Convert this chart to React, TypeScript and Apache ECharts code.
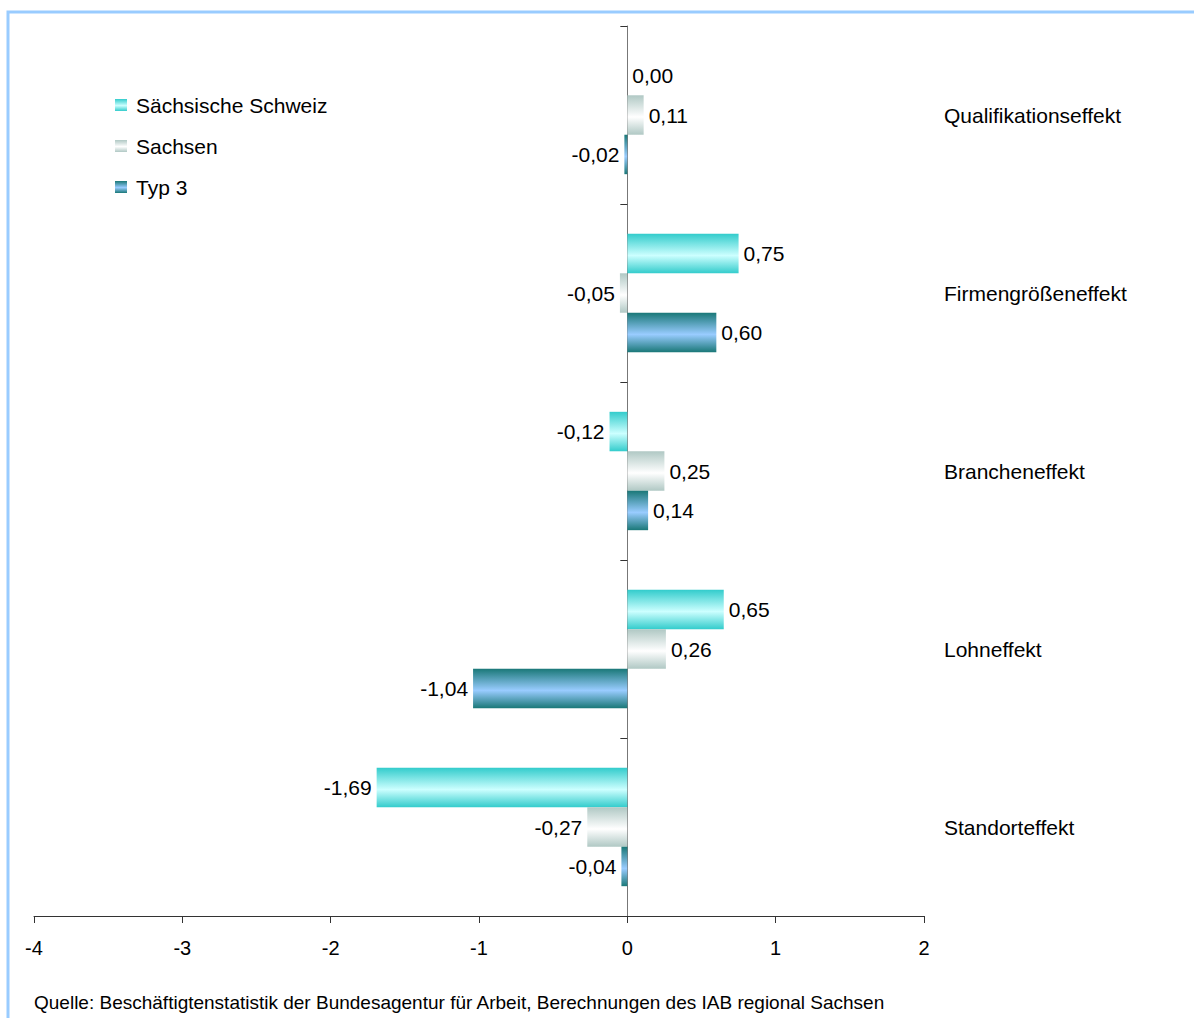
import React, { useEffect, useRef } from "react";
import * as echarts from "echarts";

const categories = [
  "Qualifikationseffekt",
  "Firmengrößeneffekt",
  "Brancheneffekt",
  "Lohneffekt",
  "Standorteffekt",
];
const seriesNames = ["Sächsische Schweiz", "Sachsen", "Typ 3"];
const saechsischeSchweiz = [0.0, 0.75, -0.12, 0.65, -1.69];
const sachsen = [0.11, -0.05, 0.25, 0.26, -0.27];
const typ3 = [-0.02, 0.6, 0.14, -1.04, -0.04];
const xTicks = [-4, -3, -2, -1, 0, 1, 2];
const sourceText =
  "Quelle: Beschäftigtenstatistik der Bundesagentur für Arbeit, Berechnungen des IAB regional Sachsen";

const FONT = "'Liberation Sans', Arial, sans-serif";

function grad(edge: string, mid: string) {
  return new echarts.graphic.LinearGradient(0, 0, 0, 1, [
    { offset: 0, color: edge },
    { offset: 0.55, color: mid },
    { offset: 1, color: edge },
  ]);
}

export default function App() {
  const ref = useRef<HTMLDivElement>(null);
  useEffect(() => {
    if (!ref.current) return;
    const chart = echarts.init(ref.current, undefined, { renderer: "svg" });
    const colors = [
      grad("#33cccc", "#ccffff"),
      grad("#b0c8c4", "#ffffff"),
      grad("#1a7878", "#99ccff"),
    ];
    const allData = [saechsischeSchweiz, sachsen, typ3];
    const fmt = (v: number) => v.toFixed(2).replace(".", ",");
    const series = seriesNames.map((name, i) => ({
      name,
      type: "bar",
      yAxisIndex: 0,
      barGap: "0%",
      barCategoryGap: "33.5%",
      itemStyle: { color: colors[i] },
      data: allData[i].map((v) => ({
        value: v,
        label: {
          show: true,
          position: v < 0 ? "left" : "right",
          distance: 5,
          formatter: () => fmt(v),
          color: "#000",
          fontSize: 21,
          fontFamily: FONT,
        },
      })),
    }));
    chart.setOption({
      animation: false,
      backgroundColor: "#ffffff",
      textStyle: { fontFamily: FONT },
      grid: { left: 34, right: 270, top: 26, bottom: 102, containLabel: false },
      legend: {
        orient: "vertical",
        left: 110,
        top: 89,
        itemWidth: 12,
        itemHeight: 12,
        itemGap: 19,
        icon: "rect",
        data: seriesNames,
        textStyle: {
          fontSize: 21,
          lineHeight: 22,
          color: "#000",
          fontFamily: FONT,
          padding: [0, 0, 0, 4],
        },
      },
      xAxis: {
        type: "value",
        min: xTicks[0],
        max: xTicks[xTicks.length - 1],
        interval: 1,
        axisLine: { show: true, lineStyle: { color: "#333", width: 1 } },
        axisTick: { show: true, length: 7, lineStyle: { color: "#333" } },
        axisLabel: { fontSize: 20, color: "#000", margin: 22, fontFamily: FONT },
        splitLine: { show: false },
      },
      yAxis: [
        {
          type: "category",
          data: categories,
          inverse: true,
          axisLine: { show: true, onZero: true, lineStyle: { color: "#777", width: 1 } },
          axisTick: { show: true, length: 7, lineStyle: { color: "#333" } },
          axisLabel: { show: false },
          splitLine: { show: false },
        },
        {
          type: "category",
          data: categories,
          inverse: true,
          position: "right",
          axisLine: { show: false, onZero: false },
          axisTick: { show: false },
          axisLabel: {
            show: true,
            margin: 20,
            align: "left",
            fontSize: 21,
            color: "#000",
            fontFamily: FONT,
          },
          splitLine: { show: false },
        },
      ],
      graphic: [
        {
          type: "rect",
          shape: { x: 8, y: 12, width: 1400, height: 1200 },
          style: { fill: "none", stroke: "#99ccff", lineWidth: 3 },
          silent: true,
        },
        {
          type: "text",
          left: 34,
          top: 993,
          style: {
            text: sourceText,
            fontSize: 19,
            fill: "#000",
            fontFamily: FONT,
          },
        },
      ],
      series,
    });
    return () => chart.dispose();
  }, []);
  return (
    <div
      ref={ref}
      style={{ position: "absolute", left: 0, top: 0, width: 1194, height: 1018 }}
    />
  );
}
